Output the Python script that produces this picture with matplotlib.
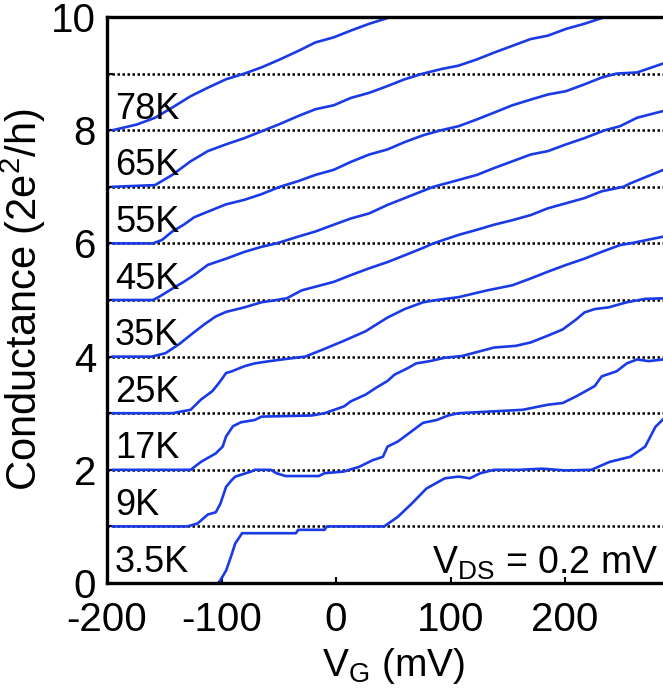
import matplotlib.pyplot as plt
from matplotlib.ticker import MultipleLocator

plt.rcParams['font.family'] = ['Liberation Sans', 'DejaVu Sans']
plt.rcParams['mathtext.fontset'] = 'custom'
plt.rcParams['mathtext.rm'] = 'Liberation Sans'
plt.rcParams['axes.unicode_minus'] = False

# temperatures and vertical offsets (each trace shifted by 1 x 2e^2/h)
temps = ['3.5K', '9K', '17K', '25K', '35K', '45K', '55K', '65K', '78K']
offsets = [0, 1, 2, 3, 4, 5, 6, 7, 8]

# gate voltage (mV) and conductance (2e^2/h)
vg_3p5 = [-104, -101, -96, -92, -88, -82, -35, -33, -10, -8, 42, 54, 66, 79, 95, 107, 117, 126, 138, 160, 180, 200, 223, 239, 257, 270, 279, 286]
g_3p5 = [-0.03, 0.05, 0.22, 0.45, 0.70, 0.88, 0.88, 0.94, 0.94, 1.0, 1.0, 1.17, 1.40, 1.67, 1.85, 1.88, 1.85, 1.94, 2.0, 2.0, 2.02, 1.99, 2.0, 2.14, 2.23, 2.41, 2.76, 2.90]

vg_9 = [-195, -130, -121, -112, -105, -101, -96, -91, -88, -74, -71, -57, -52, -44, -15, -10, 7, 13, 20, 32, 41, 45, 54, 60, 70, 76, 88, 98, 107, 135, 163, 185, 198, 210, 226, 232, 245, 254, 263, 273, 286]
g_9 = [0, 0, 0.05, 0.21, 0.25, 0.40, 0.70, 0.82, 0.88, 0.97, 1.0, 1.0, 0.94, 0.89, 0.89, 0.94, 0.97, 1.01, 1.05, 1.17, 1.23, 1.41, 1.50, 1.59, 1.74, 1.83, 1.88, 1.96, 2.0, 2.03, 2.06, 2.15, 2.18, 2.30, 2.48, 2.65, 2.74, 2.88, 2.95, 2.92, 2.95]

vg_17 = [-195, -127, -118, -105, -99, -96, -90, -83, -71, -65, -21, -10, 7, 13, 26, 35, 45, 51, 63, 70, 82, 95, 110, 138, 157, 170, 185, 198, 210, 217, 226, 238, 254, 270, 286]
g_17 = [0, 0, 0.14, 0.29, 0.41, 0.59, 0.77, 0.84, 0.88, 0.94, 0.96, 1.0, 1.12, 1.21, 1.33, 1.45, 1.57, 1.68, 1.80, 1.88, 1.92, 1.98, 2.01, 2.16, 2.19, 2.25, 2.37, 2.48, 2.66, 2.78, 2.84, 2.87, 2.96, 3.02, 3.03]

vg_25 = [-195, -143, -127, -118, -108, -102, -96, -91, -80, -71, -58, -43, -27, -12, 7, 26, 45, 60, 76, 88, 107, 132, 154, 170, 185, 201, 217, 232, 248, 257, 286]
g_25 = [0, 0, 0.06, 0.24, 0.39, 0.54, 0.71, 0.74, 0.83, 0.88, 0.92, 0.96, 1.0, 1.12, 1.28, 1.45, 1.69, 1.84, 1.96, 2.0, 2.05, 2.17, 2.26, 2.38, 2.50, 2.62, 2.73, 2.85, 2.97, 3.0, 3.12]

vg_35 = [-195, -161, -149, -137, -124, -115, -105, -96, -80, -65, -52, -43, -30, -2, 13, 29, 45, 60, 76, 85, 107, 123, 138, 154, 170, 185, 201, 217, 232, 251, 257, 286]
g_35 = [0, 0, 0.06, 0.22, 0.43, 0.57, 0.71, 0.79, 0.87, 0.96, 1.0, 1.03, 1.17, 1.32, 1.44, 1.56, 1.67, 1.79, 1.92, 2.0, 2.15, 2.24, 2.33, 2.41, 2.50, 2.62, 2.71, 2.80, 2.92, 3.0, 3.06, 3.30]

vg_45 = [-195, -160, -155, -143, -133, -124, -112, -96, -80, -65, -52, -33, -18, -2, 13, 29, 45, 60, 85, 107, 123, 138, 154, 170, 185, 201, 217, 235, 248, 263, 286]
g_45 = [0, 0, 0.05, 0.20, 0.32, 0.44, 0.62, 0.73, 0.85, 0.94, 1.0, 1.12, 1.21, 1.33, 1.44, 1.53, 1.68, 1.80, 2.0, 2.12, 2.21, 2.33, 2.45, 2.57, 2.63, 2.75, 2.86, 3.0, 3.07, 3.22, 3.34]

vg_55 = [-195, -160, -152, -143, -133, -124, -112, -96, -80, -65, -49, -33, -18, -2, 13, 29, 45, 60, 76, 92, 107, 123, 138, 154, 170, 185, 201, 217, 232, 245, 263, 286]
g_55 = [0, 0, 0.06, 0.21, 0.33, 0.46, 0.56, 0.69, 0.77, 0.87, 1.0, 1.10, 1.21, 1.30, 1.44, 1.57, 1.66, 1.79, 1.91, 2.0, 2.07, 2.19, 2.31, 2.44, 2.54, 2.63, 2.69, 2.81, 2.93, 3.0, 3.02, 3.18]

vg_65 = [-195, -158, -143, -127, -112, -96, -80, -65, -49, -33, -18, -2, 13, 29, 45, 60, 76, 92, 107, 123, 138, 154, 170, 185, 201, 217, 238]
g_65 = [0, 0.03, 0.21, 0.45, 0.63, 0.75, 0.86, 0.98, 1.11, 1.25, 1.37, 1.44, 1.57, 1.66, 1.78, 1.90, 2.0, 2.08, 2.14, 2.25, 2.37, 2.49, 2.61, 2.67, 2.79, 2.88, 3.02]

vg_78 = [-195, -174, -158, -143, -127, -112, -96, -80, -65, -49, -33, -18, -2, 13, 29, 51]
g_78 = [0, 0.10, 0.22, 0.40, 0.60, 0.75, 0.90, 1.0, 1.11, 1.25, 1.40, 1.55, 1.64, 1.76, 1.88, 2.02]

vg_all = [vg_3p5, vg_9, vg_17, vg_25, vg_35, vg_45, vg_55, vg_65, vg_78]
g_all = [g_3p5, g_9, g_17, g_25, g_35, g_45, g_55, g_65, g_78]

fig = plt.figure(figsize=(6.63, 6.93), dpi=100)
ax = fig.add_axes([0.1614, 0.1587, 0.8635, 0.8168])

# dotted reference lines at each offset
for off in offsets[1:] + [9]:
    ax.axhline(off, color='black', lw=1.8, ls=(0, (1.0, 1.0)), zorder=1)

for vg, g, off, t in zip(vg_all, g_all, offsets, temps):
    ax.plot(vg, [v + off for v in g], color='#1a3ae6', lw=1.9, zorder=2)
    ax.text(-193, off + 0.2, t, fontsize=26, va='baseline', ha='left', zorder=3)

ax.text(84, 0.17, r'V$\mathregular{_{DS}}$ = 0.2 mV', fontsize=27, va='baseline', ha='left')

ax.set_xlim(-200, 300)
ax.set_ylim(0, 10)
ax.set_xticks([-200, -100, 0, 100, 200])
ax.set_yticks([0, 2, 4, 6, 8, 10])
ax.yaxis.set_minor_locator(MultipleLocator(1))
ax.tick_params(which='both', direction='in', length=4, width=1.5, labelsize=29)
ax.tick_params(axis='x', pad=13)
ax.tick_params(axis='y', pad=8)

for s in ax.spines.values():
    s.set_linewidth(2.4)

ax.set_xlabel(r'V$\mathregular{_G}$ (mV)', fontsize=28, labelpad=5)
ax.set_ylabel(r'Conductance (2e$\mathregular{^2}$/h)', fontsize=30, labelpad=2)

plt.savefig('out.png', dpi=100)
